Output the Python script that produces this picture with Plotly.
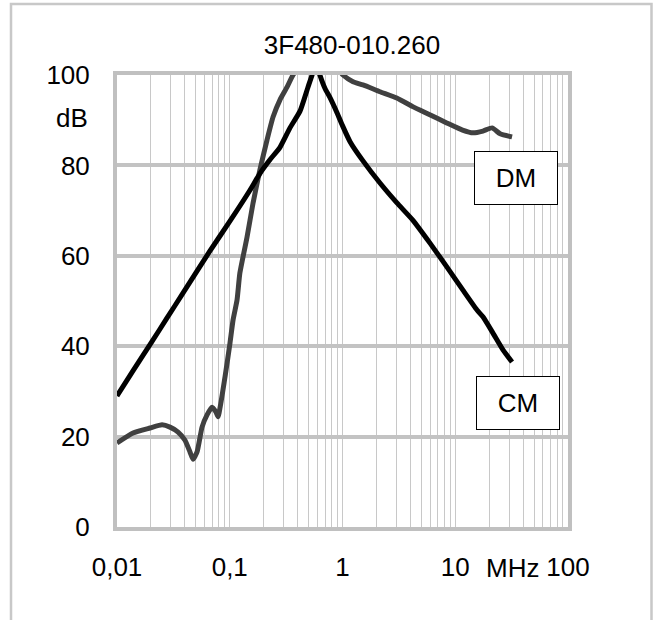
import plotly.graph_objects as go

# Data (frequency in MHz, attenuation in dB)
cm_freq = [0.01, 0.0139, 0.0204, 0.0277, 0.0377, 0.0668, 0.10, 0.151, 0.185, 0.228, 0.279,
           0.342, 0.42, 0.494, 0.537, 0.58, 0.63, 0.70, 0.775, 0.90, 1.0, 1.17, 1.52, 2.15,
           3.04, 4.2, 5.97, 8.45, 11.7, 15.6, 17.6, 21.6, 26.5, 31.9]
cm_db = [29.0, 34.6, 41.0, 46.2, 51.4, 61.1, 67.6, 74.5, 78.2, 81.3, 84.0,
         88.3, 92.0, 97.3, 100.0, 103.0, 100.0, 97.0, 95.0, 91.5, 88.8, 85.2, 81.0, 76.1,
         71.7, 67.9, 62.8, 57.5, 52.4, 48.0, 46.5, 42.9, 39.2, 36.5]

dm_freq = [0.01, 0.01387, 0.0196, 0.0251, 0.0295, 0.0348, 0.0401, 0.0444, 0.0472, 0.0513,
           0.0568, 0.0629, 0.0697, 0.0756, 0.0787, 0.0908, 0.1005, 0.107, 0.116, 0.123,
           0.142, 0.161, 0.185, 0.214, 0.242, 0.279, 0.322, 0.364, 0.45, 0.7, 0.9, 1.01,
           1.24, 1.52, 2.15, 3.03, 4.2, 5.95, 8.4, 11.6, 14.4, 17.6, 21.2, 25.0, 31.9]
dm_db = [18.6, 20.8, 21.9, 22.6, 22.1, 21.0, 19.2, 16.6, 15.0, 16.6,
         22.1, 24.8, 26.5, 25.4, 24.4, 33.2, 40.7, 45.8, 50.2, 56.2,
         64.0, 71.7, 79.0, 85.6, 90.7, 94.5, 97.3, 100.0, 103.0, 104.0, 101.5, 100.0,
         98.5, 97.8, 96.3, 94.9, 93.0, 91.2, 89.4, 87.8, 87.2, 87.6, 88.3, 87.0, 86.3]

x_tickvals = [0.01, 0.1, 1, 10, 100]
x_ticktext = ["0,01", "0,1", "1", "10", "100"]
y_tickvals = [0, 20, 40, 60, 80, 100]
minor_vals = [m * d for d in [0.01, 0.1, 1, 10] for m in range(2, 10)]

title_text = "3F480-010.260"
label_dm = "DM"
label_cm = "CM"

FONT = "Liberation Sans, Arial, sans-serif"
FS = 26

fig = go.Figure()
fig.add_trace(go.Scatter(x=dm_freq, y=dm_db, mode="lines", name="DM",
                         line=dict(color="#404040", width=5, shape="spline", smoothing=0.5),
                         showlegend=False))
fig.add_trace(go.Scatter(x=cm_freq, y=cm_db, mode="lines", name="CM",
                         line=dict(color="#000000", width=5, shape="spline", smoothing=0.5),
                         showlegend=False))

W, H = 656, 620
L, R, T, B = 117, 88, 75, 93
pw, ph = W - L - R, H - T - B


def px_to_paper_x(px):
    return (px - L) / pw


def px_to_paper_y(py):
    return (H - B - py) / ph


fig.update_layout(
    width=W, height=H,
    margin=dict(l=L, r=R, t=T, b=B, pad=0),
    paper_bgcolor="white", plot_bgcolor="white",
    font=dict(family=FONT, size=FS, color="#000000"),
    title=dict(text=title_text, x=352 / W, xanchor="center", y=1 - 45 / H,
               yanchor="middle", font=dict(family=FONT, size=FS, color="#000000")),
    xaxis=dict(type="log", range=[-2, 2], tickvals=x_tickvals, ticktext=x_ticktext,
               showgrid=True, gridcolor="#c8c8c8", gridwidth=1,
               ticks="outside", ticklen=14, tickcolor="rgba(0,0,0,0)",
               showline=True, mirror=True, linecolor="#c0c0c0", linewidth=4,
               zeroline=False,
               minor=dict(tickvals=minor_vals, showgrid=True, gridcolor="#c8c8c8",
                          gridwidth=1, ticks="")),
    yaxis=dict(range=[0, 100], tickvals=y_tickvals,
               showgrid=True, gridcolor="#c3c3c3", gridwidth=4,
               ticks="outside", ticklen=18, tickcolor="rgba(0,0,0,0)",
               showline=True, mirror=True, linecolor="#c0c0c0", linewidth=4,
               zeroline=False),
)

# outer chart frame
fig.add_shape(type="rect", xref="paper", yref="paper",
              x0=px_to_paper_x(11), x1=px_to_paper_x(651.5),
              y0=px_to_paper_y(640), y1=px_to_paper_y(4),
              line=dict(color="#c8c8c8", width=2.5), fillcolor="rgba(0,0,0,0)",
              layer="below")

# axis unit labels
fig.add_annotation(text="dB", xref="paper", yref="y", x=px_to_paper_x(72), y=90.5,
                   showarrow=False, xanchor="center", yanchor="middle",
                   font=dict(family=FONT, size=FS))
fig.add_annotation(text="MHz", xref="paper", yref="paper", x=px_to_paper_x(512),
                   y=px_to_paper_y(568), showarrow=False, xanchor="center",
                   yanchor="middle", font=dict(family=FONT, size=FS))

# series labels in boxes
for txt, cx, cy in [(label_dm, 516, 178), (label_cm, 518, 403)]:
    fig.add_annotation(text=txt, xref="paper", yref="paper",
                       x=px_to_paper_x(cx), y=px_to_paper_y(cy),
                       showarrow=False, xanchor="center", yanchor="middle",
                       width=78, height=48, bgcolor="white",
                       bordercolor="#000000", borderwidth=1, borderpad=2,
                       font=dict(family=FONT, size=FS))

fig.write_html("out.html")
